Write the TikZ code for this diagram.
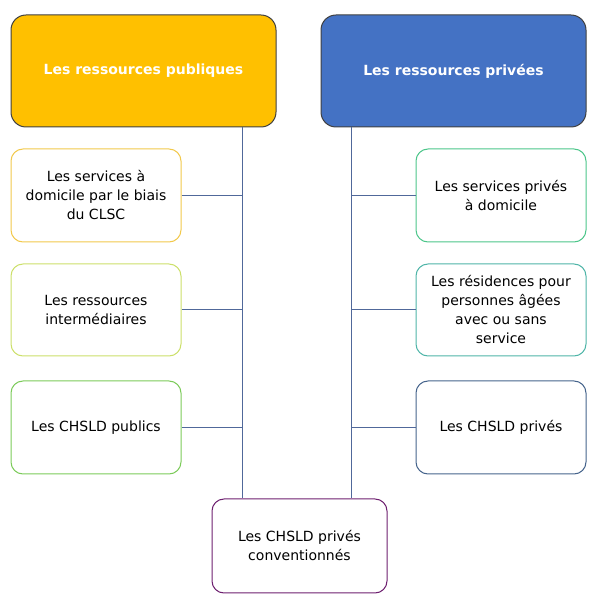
\documentclass[tikz,border=0pt]{standalone}
\usepackage{fontspec}
\setmainfont{DejaVu Sans}
\usepackage{xcolor}
\usetikzlibrary{positioning}

\definecolor{pubfill}{HTML}{FFC000}
\definecolor{privfill}{HTML}{4472C4}
\definecolor{clscline}{HTML}{F2C94C}
\definecolor{riline}{HTML}{CCE06A}
\definecolor{chsldpubline}{HTML}{7CCB5A}
\definecolor{spadline}{HTML}{4CC68A}
\definecolor{rpaline}{HTML}{4FB5A8}
\definecolor{chsldprivline}{HTML}{46648C}
\definecolor{convline}{HTML}{6E2070}
\definecolor{linkblue}{HTML}{50689A}

\begin{document}
\begin{tikzpicture}[x=1pt, y=1pt,
        head/.style={draw=black!75, line width=1pt, rounded corners=15pt, minimum width=265pt, minimum height=112pt, text=white, font=\fontsize{14}{19}\selectfont\bfseries},
        item/.style={draw=#1, line width=1pt, fill=white, rounded corners=12pt, align=center, minimum width=170pt, minimum height=93pt, font=\fontsize{14}{19}\selectfont},
        link/.style={draw=linkblue, line width=1pt}
    ]
        \useasboundingbox (0,0) rectangle (597,606);

        \node[head, fill=pubfill] (publiques) at (143.5,535) {Les ressources publiques};
        \node[head, fill=privfill] (privees) at (453.5,535) {Les ressources privées};

        % public side
        \node[item=clscline, below=21pt of publiques.south west, anchor=north west] (clsc) {Les services à\\domicile par le biais\\du CLSC};
        \node[item=riline, minimum height=92pt, below=21pt of clsc] (ri) {Les ressources\\intermédiaires};
        \node[item=chsldpubline, below=24pt of ri] (chsldpub) {Les CHSLD publics};

        % private side
        \node[item=spadline, below=21pt of privees.south east, anchor=north east] (spad) {Les services privés\\à domicile};
        \node[item=rpaline, minimum height=92pt, below=21pt of spad] (rpa) {Les résidences pour\\personnes âgées\\avec ou sans\\service};
        \node[item=chsldprivline, below=24pt of rpa] (chsldpriv) {Les CHSLD privés};

        \node[item=convline, minimum width=175pt, minimum height=94pt] (conv) at (299.5,60) {Les CHSLD privés\\conventionnés};

        \coordinate (pubspine) at ([xshift=-34pt]publiques.south east);
        \coordinate (privspine) at ([xshift=31pt]privees.south west);

        \draw[link] (pubspine) -- (pubspine |- conv.north);
        \draw[link] (privspine) -- (privspine |- conv.north);

        \draw[link] (clsc.east) -- (clsc.east -| pubspine);
        \draw[link] (ri.east) -- (ri.east -| pubspine);
        \draw[link] (chsldpub.east) -- (chsldpub.east -| pubspine);
        \draw[link] (spad.west) -- (spad.west -| privspine);
        \draw[link] (rpa.west) -- (rpa.west -| privspine);
        \draw[link] (chsldpriv.west) -- (chsldpriv.west -| privspine);
    \end{tikzpicture}
\end{document}
